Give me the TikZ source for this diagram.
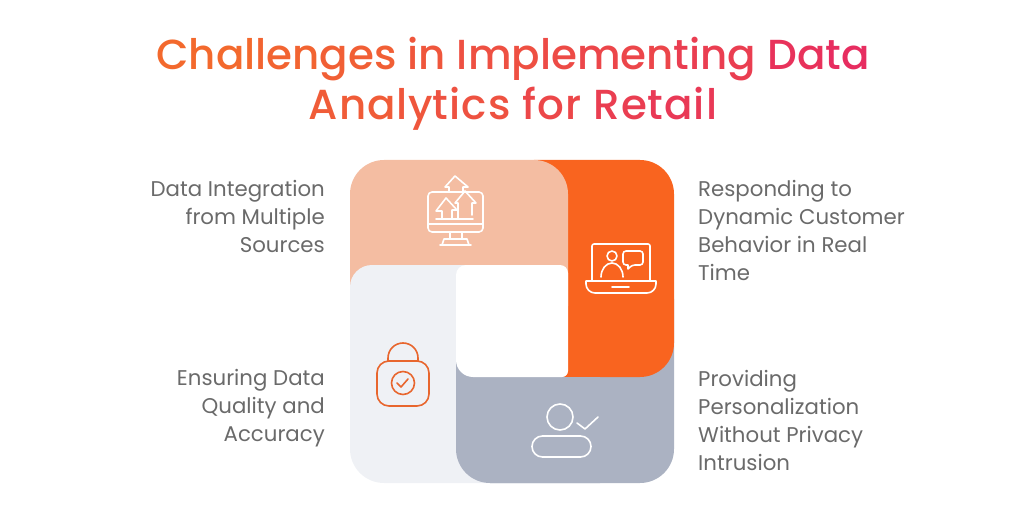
\documentclass[tikz,border=0pt]{standalone}
\usepackage{fontspec}
\setmainfont{Poppins}
\newfontfamily\titlefont{Poppins Medium}
\definecolor{peach}{HTML}{F4BDA2}
\definecolor{flame}{HTML}{F9641F}
\definecolor{slate}{HTML}{ABB2C2}
\definecolor{mist}{HTML}{EFF1F5}
\definecolor{lockline}{HTML}{E8662E}
\definecolor{label}{HTML}{6A6A6A}
\definecolor{titlestart}{HTML}{F46C2A}
\definecolor{titleend}{HTML}{E62A62}
\newcommand{\tp}[2]{\textcolor{titleend!#1!titlestart}{#2}}
\begin{document}
\begin{tikzpicture}[x=1pt, y=-1pt,
    side/.style = {font=\fontsize{21.3}{28}\selectfont, text=label, inner sep=0pt},
    leftside/.style = {side, align=right, anchor=east},
    rightside/.style = {side, align=left, anchor=west},
    whiteicon/.style = {draw=white, line width=1.6pt, line join=round, line cap=round},
    lockicon/.style = {draw=lockline, line width=1.6pt, line join=round, line cap=round}]
    \useasboundingbox (0,0) rectangle (1024,521);

    % title
    \node[font=\titlefont\fontsize{42}{50}\selectfont, align=center, inner sep=0pt] (title) at (513,84)
        {\tp{5}{Chal}\tp{12}{len}\tp{20}{ges} \tp{33}{in} \tp{42}{Imp}\tp{50}{le}\tp{58}{men}\tp{70}{ting} \tp{88}{Da}\tp{96}{ta}\\
         \addfontfeature{LetterSpace=2.7}\tp{25}{Ana}\tp{33}{ly}\tp{40}{tics} \tp{56}{for} \tp{70}{Re}\tp{78}{tail}};

    % tiles
    \fill[slate, rounded corners=34] (456,265) rectangle (674,483);
    \fill[flame, rounded corners=34] (534,377) [sharp corners] -- (534,160) [rounded corners=34] -- (674,160) -- (674,377) -- cycle;
    \fill[peach, rounded corners=34] (350,160) rectangle (568,340);
    \fill[mist] (490,483) -- (384,483) arc (90:180:34) -- (350,287) arc (180:270:22) -- (490,265) -- cycle;
    \begin{scope}
        \clip (400,377) rectangle (600,490);
        \fill[slate, rounded corners=34] (456,265) rectangle (674,483);
    \end{scope}
    \fill[slate] (456,355) rectangle (480,378);
    \fill[white] (466,265) -- (560,265) arc (270:360:8) -- (568,371) arc (0:90:6) -- (473,377) arc (90:180:17) -- (456,275) arc (180:270:10) -- cycle;

    % monitor icon
    \draw[whiteicon, rounded corners=4] (428,192) rectangle (483,232);
    \draw[whiteicon] (428,224) -- (483,224);
    \draw[whiteicon] (450,232) -- (450,239) (462,239) -- (462,232);
    \draw[whiteicon] (444,239) -- (467,239) -- (469,245) (442,245) -- (444,239);
    \draw[whiteicon] (440,245) -- (471,245);
    \draw[whiteicon] (436,219) -- (473,219);
    \draw[whiteicon] (442,219) -- (442,211) -- (436,211) -- (446,198) -- (457,210) -- (452,210) -- (452,219);
    \draw[whiteicon] (458,219) -- (458,203) -- (455,203) -- (465,191) -- (476,203) -- (472,203) -- (472,215);
    \draw[whiteicon] (449,192) -- (449,187) -- (445,187) -- (455,176) -- (468,187) -- (463,187) -- (463,191);

    % laptop icon
    \draw[whiteicon, rounded corners=2] (592,281) -- (592,244) -- (650,244) -- (650,281);
    \draw[whiteicon] (586,281) -- (656,281) -- (656,284) arc (0:90:9) -- (595,293) arc (90:180:9) -- cycle;
    \draw[whiteicon] (612,287) -- (629,287);
    \draw[whiteicon] (612,256) circle (5);
    \draw[whiteicon] (601,277) arc (180:360:11 and 14);
    \draw[whiteicon, rounded corners=3] (633,251) -- (643,251) -- (643,265) -- (632,265) [sharp corners] -- (628,269) -- (628,265) [rounded corners=3] -- (623,265) -- (623,251) -- cycle;

    % lock icon
    \draw[lockicon, rounded corners=12] (377,361) rectangle (429,406);
    \draw[lockicon] (388,361) -- (388,358) arc (180:360:15) -- (418,361);
    \draw[lockicon] (403,383) circle (11.5);
    \draw[lockicon] (397,383) -- (401,387) -- (408,379);

    % user icon
    \draw[whiteicon] (560,417) circle (13);
    \draw[whiteicon] (577,423) -- (585,429) -- (598,417);
    \draw[whiteicon, rounded corners=10.5] (532,436) rectangle (591,457);

    % labels
    \node[leftside] (integration) at (325,216) {Data Integration\\from Multiple\\Sources};
    \node[leftside] (quality) at (325,408) {Ensuring Data\\Quality and\\Accuracy};
    \node[rightside] (dynamic) at (698,230) {Responding to\\Dynamic Customer\\Behavior in Real\\Time};
    \node[rightside] (privacy) at (698,420) {Providing\\Personalization\\Without Privacy\\Intrusion};
\end{tikzpicture}
\end{document}
